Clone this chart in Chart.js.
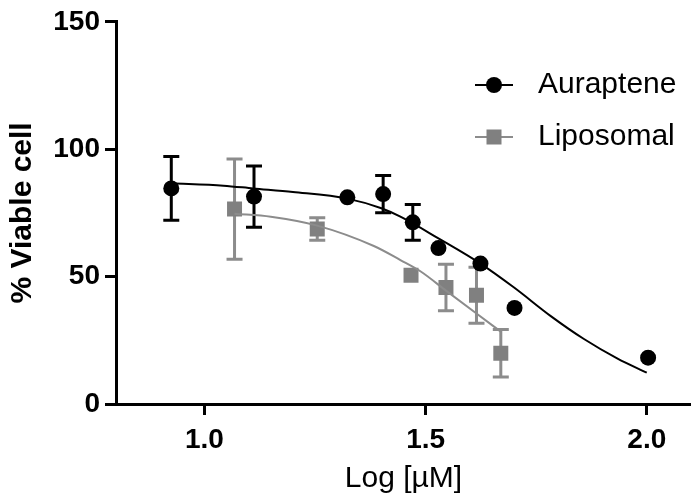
<!DOCTYPE html>
<html>
<head>
<meta charset="utf-8">
<script src="https://cdn.jsdelivr.net/npm/chart.js@4.4.1/dist/chart.umd.min.js"></script>
<style>
    html, body { margin: 0; padding: 0; background: #fff; }
    #chart { display: block; }
</style>
</head>
<body>
<canvas id="chart" width="691" height="497"></canvas>
<script>
// values
const auraX = [0.925, 1.112, 1.323, 1.404, 1.471, 1.529, 1.624, 1.701, 2.003];
const auraY = [84.6, 81.4, 81.1, 82.4, 71.3, 61.2, 55.1, 37.7, 18.2];
const auraErr = [12.5, 12.0, 0, 7.3, 7.0, 0, 0, 0, 0];

const lipoX = [1.068, 1.255, 1.467, 1.546, 1.615, 1.670];
const lipoY = [76.5, 68.7, 50.5, 45.7, 42.7, 19.9];
const lipoErr = [19.7, 4.4, 0, 9.1, 11.0, 9.3];

// fitted curves
const auraFitX = [0.925, 1.043, 1.11, 1.20, 1.323, 1.40, 1.443, 1.529, 1.624, 1.70, 1.783, 1.858, 1.934, 2.0];
const auraFitY = [86.6, 85.7, 84.6, 83.2, 80.6, 76.8, 73.5, 65.0, 55.1, 45.7, 34.5, 25.5, 17.8, 12.3];
const lipoFitX = [1.068, 1.15, 1.255, 1.383, 1.443, 1.489, 1.546, 1.615, 1.670];
const lipoFitY = [74.7, 73.5, 70.0, 62.0, 56.5, 52.0, 44.5, 35.5, 28.4];

const xTicks = [1.0, 1.5, 2.0];
const yTicks = [0, 50, 100, 150];
const seriesNames = ['Auraptene', 'Liposomal'];

const FONT = '"Liberation Sans", Arial, sans-serif';
const BLACK = '#000000';
const GRAY = '#808080';

function toPoints(xs, ys) {
    return xs.map((x, i) => ({ x, y: ys[i] }));
}

const errorBarPlugin = {
    id: 'errorBars',
    beforeDatasetsDraw(chart) {
        const ctx = chart.ctx;
        const yScale = chart.scales.y;
        chart.data.datasets.forEach((dataset, di) => {
            if (!dataset.errors) {
                return;
            }
            const meta = chart.getDatasetMeta(di);
            ctx.save();
            ctx.strokeStyle = dataset.errorColor;
            ctx.lineWidth = 3;
            meta.data.forEach((el, i) => {
                const err = dataset.errors[i];
                if (!err) {
                    return;
                }
                const value = dataset.data[i].y;
                const top = yScale.getPixelForValue(value + err);
                const bottom = yScale.getPixelForValue(value - err);
                const cap = 8;
                ctx.beginPath();
                ctx.moveTo(el.x, top);
                ctx.lineTo(el.x, bottom);
                ctx.moveTo(el.x - cap, top);
                ctx.lineTo(el.x + cap, top);
                ctx.moveTo(el.x - cap, bottom);
                ctx.lineTo(el.x + cap, bottom);
                ctx.stroke();
            });
            ctx.restore();
        });
    }
};

const legendPlugin = {
    id: 'sideLegend',
    afterDraw(chart) {
        const ctx = chart.ctx;
        const entries = chart.data.datasets.filter(d => d.legendEntry);
        ctx.save();
        entries.forEach((d, i) => {
            const y = 85 + i * 52;
            ctx.strokeStyle = d.lineColor;
            ctx.lineWidth = 2;
            ctx.beginPath();
            ctx.moveTo(475, y);
            ctx.lineTo(513, y);
            ctx.stroke();
            ctx.fillStyle = d.pointBackgroundColor;
            if (d.pointStyle === 'rect') {
                ctx.fillRect(494 - 7.5, y - 7.5, 15, 15);
            } else {
                ctx.beginPath();
                ctx.arc(494, y, 8, 0, Math.PI * 2);
                ctx.fill();
            }
            ctx.fillStyle = '#000';
            ctx.font = '30px ' + FONT;
            ctx.textBaseline = 'middle';
            ctx.textAlign = 'left';
            ctx.fillText(d.label, 538, y);
        });
        ctx.restore();
    }
};

new Chart(document.getElementById('chart'), {
    data: {
        datasets: [
            {
                type: 'line',
                label: seriesNames[0] + ' fit',
                data: toPoints(auraFitX, auraFitY),
                borderColor: BLACK,
                borderWidth: 2,
                pointRadius: 0,
                cubicInterpolationMode: 'monotone',
                fill: false
            },
            {
                type: 'line',
                label: seriesNames[1] + ' fit',
                data: toPoints(lipoFitX, lipoFitY),
                borderColor: '#8c8c8c',
                borderWidth: 2,
                pointRadius: 0,
                cubicInterpolationMode: 'monotone',
                fill: false
            },
            {
                type: 'scatter',
                label: seriesNames[0],
                data: toPoints(auraX, auraY),
                errors: auraErr,
                errorColor: BLACK,
                lineColor: BLACK,
                legendEntry: true,
                pointStyle: 'circle',
                pointRadius: 8,
                pointBackgroundColor: BLACK,
                pointBorderWidth: 0
            },
            {
                type: 'scatter',
                label: seriesNames[1],
                data: toPoints(lipoX, lipoY),
                errors: lipoErr,
                errorColor: '#8c8c8c',
                lineColor: '#8c8c8c',
                legendEntry: true,
                pointStyle: 'rect',
                pointRadius: 10.6,
                pointBackgroundColor: GRAY,
                pointBorderWidth: 0
            }
        ]
    },
    options: {
        responsive: false,
        animation: false,
        layout: {
            autoPadding: false,
            padding: { top: 20, right: 0, bottom: 0, left: 0 }
        },
        plugins: {
            legend: { display: false },
            tooltip: { enabled: false }
        },
        scales: {
            x: {
                type: 'linear',
                min: 0.8,
                max: 2.1,
                afterBuildTicks(scale) {
                    scale.ticks = xTicks.map(v => ({ value: v }));
                },
                afterFit(scale) {
                    scale.height = 93;
                    scale.paddingLeft = 0;
                    scale.paddingRight = 0;
                },
                border: { color: BLACK, width: 3 },
                grid: {
                    drawOnChartArea: false,
                    drawTicks: true,
                    tickLength: 11,
                    tickWidth: 3,
                    tickColor: BLACK
                },
                ticks: {
                    color: BLACK,
                    padding: 8,
                    font: { family: FONT, size: 28, weight: 'bold' },
                    callback: v => v.toFixed(1)
                },
                title: {
                    display: true,
                    text: 'Log [µM]',
                    color: BLACK,
                    padding: { top: 6, bottom: 0 },
                    font: { family: FONT, size: 30, lineHeight: 1.2 }
                }
            },
            y: {
                type: 'linear',
                min: 0,
                max: 150,
                afterBuildTicks(scale) {
                    scale.ticks = yTicks.map(v => ({ value: v }));
                },
                afterFit(scale) {
                    scale.width = 116;
                },
                border: { color: BLACK, width: 3 },
                grid: {
                    drawOnChartArea: false,
                    drawTicks: true,
                    tickLength: 11,
                    tickWidth: 3,
                    tickColor: BLACK
                },
                ticks: {
                    color: BLACK,
                    padding: 5,
                    font: { family: FONT, size: 28, weight: 'bold' }
                },
                title: {
                    display: true,
                    text: '% Viable cell',
                    color: BLACK,
                    padding: { top: 5, bottom: 0 },
                    font: { family: FONT, size: 30, weight: 'bold', lineHeight: 1.2 }
                }
            }
        }
    },
    plugins: [errorBarPlugin, legendPlugin]
});
</script>
</body>
</html>
